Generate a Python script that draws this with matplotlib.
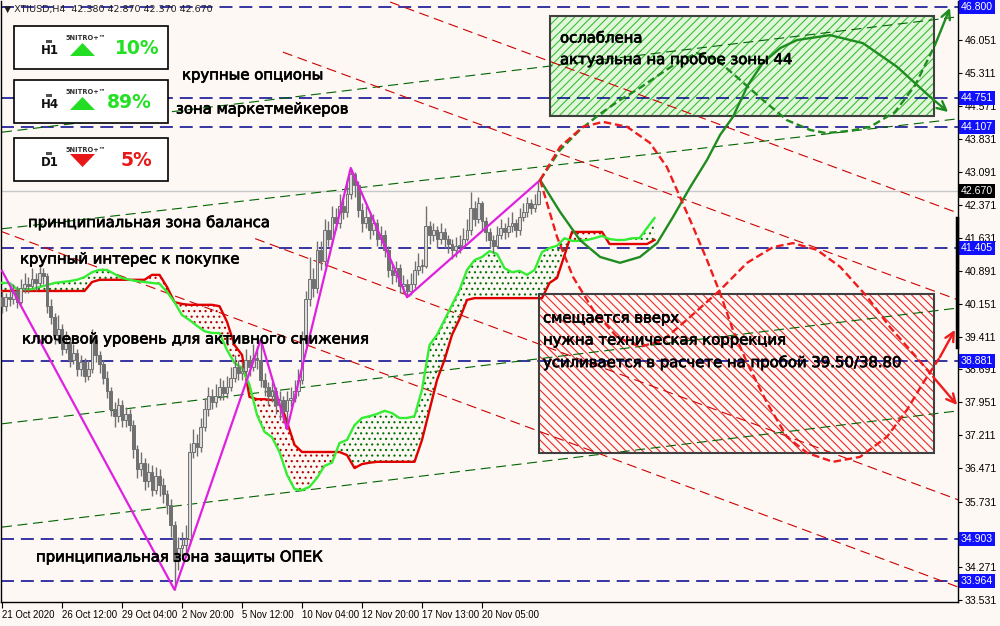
import numpy as np
import matplotlib
matplotlib.use("Agg")
import matplotlib.pyplot as plt
from matplotlib.patches import Rectangle, Polygon
import matplotlib.transforms as mtransforms
import matplotlib.patheffects as pe

# ---------------- data ----------------
closes = [40.10, 40.30, 40.25, 40.45, 40.20, 40.50, 40.60, 40.55, 40.70, 40.62,
          40.85, 40.78, 40.10, 39.85, 39.45, 39.60, 39.15, 39.30, 38.90, 39.05,
          38.70, 38.85, 38.55, 38.70, 39.35, 39.00, 38.80, 38.50, 38.20, 37.80,
          37.65, 37.90, 37.55, 37.70, 37.45, 36.90, 36.45, 36.60, 36.20, 36.40,
          36.00, 36.30, 36.10, 35.90, 35.65, 35.20, 34.40, 34.70, 34.75, 34.90,
          36.85, 37.05, 36.95, 37.40, 37.80, 38.10, 37.95, 38.10, 38.30, 38.15,
          38.30, 38.50, 38.75, 38.60, 38.65, 38.90, 38.75, 38.95, 38.90, 38.45,
          38.30, 38.10, 38.20, 37.90, 38.00, 37.75, 38.00, 38.05, 38.20, 38.45,
          39.35, 40.25, 40.70, 40.50, 41.35, 41.10, 41.80, 41.60, 42.10, 41.95,
          42.35, 42.20, 42.60, 43.05, 42.80, 42.25, 41.95, 42.10, 41.80, 41.95,
          41.60, 41.70, 41.35, 40.90, 40.80, 40.95, 40.55, 40.60, 40.45, 40.60,
          40.90, 41.00, 41.00, 41.90, 41.70, 41.80, 41.60, 41.75, 41.60, 41.50,
          41.35, 41.45, 41.45, 41.60, 41.80, 42.30, 42.05, 42.40, 42.00, 41.75,
          41.58, 41.45, 41.70, 41.85, 41.75, 41.90, 41.95, 41.80, 42.10, 42.20,
          42.40, 42.30, 42.38, 42.67]
highs = [40.45, 40.40, 40.55, 40.60, 40.55, 40.70, 40.85, 40.75, 40.95, 40.85,
         41.05, 40.95, 40.85, 40.25, 39.95, 39.90, 39.70, 39.55, 39.40, 39.25,
         39.15, 39.00, 38.95, 38.90, 39.60, 39.45, 39.10, 38.90, 38.65, 38.30,
         37.95, 38.05, 38.00, 37.85, 37.80, 37.55, 37.00, 36.85, 36.70, 36.60,
         36.55, 36.50, 36.45, 36.25, 36.00, 35.80, 35.30, 34.95, 35.05, 35.20,
         37.05, 37.35, 37.25, 37.60, 38.05, 38.30, 38.25, 38.35, 38.50, 38.45,
         38.55, 38.75, 39.00, 38.90, 38.85, 39.15, 39.00, 39.25, 39.20, 39.35,
         38.60, 38.40, 38.40, 38.30, 38.20, 38.10, 38.20, 38.30, 38.45, 38.70,
         39.55, 40.45, 41.20, 40.95, 41.55, 41.55, 42.05, 42.00, 42.35, 42.30,
         42.60, 42.55, 42.95, 43.20, 43.10, 42.90, 42.40, 42.35, 42.20, 42.15,
         42.05, 41.90, 41.80, 41.45, 41.05, 41.10, 41.05, 40.80, 40.70, 40.85,
         41.10, 41.30, 41.15, 42.35, 42.00, 41.95, 41.90, 41.95, 41.85, 41.70,
         41.60, 41.65, 41.70, 41.85, 42.05, 42.65, 42.45, 42.55, 42.45, 42.10,
         41.85, 41.70, 41.90, 42.05, 41.95, 42.10, 42.20, 42.05, 42.30, 42.40,
         42.55, 42.50, 42.60, 42.87]
lows = [39.95, 40.00, 40.10, 40.15, 40.05, 40.15, 40.40, 40.40, 40.50, 40.45,
        40.55, 40.60, 39.95, 39.70, 39.25, 39.30, 39.00, 39.05, 38.75, 38.80,
        38.55, 38.55, 38.40, 38.45, 38.60, 38.85, 38.60, 38.35, 38.05, 37.65,
        37.40, 37.50, 37.40, 37.40, 37.30, 36.70, 36.25, 36.30, 36.00, 36.05,
        35.85, 35.90, 35.85, 35.70, 35.45, 34.95, 33.76, 34.20, 34.45, 34.50,
        34.80, 36.70, 36.75, 36.85, 37.30, 37.65, 37.80, 37.85, 38.00, 38.00,
        38.05, 38.20, 38.40, 38.45, 38.45, 38.55, 38.55, 38.65, 38.70, 38.30,
        38.10, 37.90, 37.95, 37.70, 37.55, 37.50, 37.35, 37.85, 37.95, 38.10,
        38.35, 39.20, 40.10, 40.30, 40.40, 40.90, 41.00, 41.45, 41.50, 41.80,
        41.85, 42.05, 42.10, 42.50, 42.55, 42.10, 41.75, 41.85, 41.60, 41.70,
        41.45, 41.45, 41.20, 40.75, 40.60, 40.65, 40.40, 40.40, 40.30, 40.35,
        40.50, 40.80, 40.85, 40.95, 41.50, 41.55, 41.40, 41.50, 41.40, 41.30,
        41.15, 41.20, 41.30, 41.40, 41.55, 41.70, 41.90, 41.95, 41.80, 41.55,
        41.40, 41.30, 41.40, 41.60, 41.60, 41.65, 41.75, 41.65, 41.70, 42.00,
        42.10, 42.15, 42.20, 42.37]
first_open = 40.30

# Ichimoku cloud (every second bar, incl. bars projected forward)
cloud_bars = list(range(0, 176, 2))
span_a = [40.62, 40.62, 40.48, 40.48, 40.48, 40.53, 40.57, 40.62, 40.64, 40.66,
          40.69, 40.75, 40.86, 40.91, 40.91, 40.82, 40.73, 40.69, 40.66, 40.64,
          40.62, 40.60, 40.42, 40.19, 39.90, 39.79, 39.66, 39.54, 39.50, 39.50,
          39.12, 38.83, 38.72, 38.34, 37.67, 37.29, 37.17, 36.84, 36.33, 36.01,
          35.99, 36.06, 36.26, 36.53, 36.60, 37.04, 37.11, 37.44, 37.60, 37.64,
          37.69, 37.76, 37.71, 37.60, 37.60, 37.64, 38.23, 39.23, 39.46, 39.79,
          40.13, 40.46, 40.91, 41.13, 41.20, 41.33, 41.27, 40.95, 40.86, 40.89,
          40.80, 40.91, 41.31, 41.40, 41.45, 41.62, 41.56, 41.56, 41.58, 41.62,
          41.67, 41.60, 41.58, 41.58, 41.62, 41.62, 41.85, 42.07]
span_b = [40.44, 40.44, 40.44, 40.44, 40.44, 40.44, 40.44, 40.44, 40.44, 40.44,
          40.44, 40.44, 40.64, 40.69, 40.69, 40.69, 40.69, 40.69, 40.69, 40.69,
          40.80, 40.80, 40.53, 40.19, 40.15, 40.13, 40.13, 40.13, 40.13, 40.10,
          39.75, 39.23, 39.01, 38.07, 38.02, 38.02, 38.00, 38.00, 37.51, 37.00,
          36.84, 36.84, 36.84, 36.84, 36.84, 36.84, 36.77, 36.48, 36.57, 36.60,
          36.62, 36.62, 36.62, 36.62, 36.62, 36.62, 37.11, 37.78, 38.45, 38.90,
          39.46, 39.81, 40.24, 40.28, 40.28, 40.28, 40.28, 40.28, 40.28, 40.28,
          40.28, 40.28, 40.28, 40.62, 40.73, 41.24, 41.76, 41.76, 41.76, 41.76,
          41.76, 41.49, 41.49, 41.49, 41.49, 41.49, 41.49, 41.58]

# ZigZag
zz_bars = [0, 46, 69, 76, 93, 108, 143.5]
zz_vals = [40.89, 33.76, 39.35, 37.35, 43.19, 40.30, 42.92]

# horizontal levels
levels = [46.800, 44.751, 44.107, 41.405, 38.881, 34.903, 33.964]
last_price = 42.670

# channel lines
trend_bars = [0, 255]
green_trend_start = [35.16, 37.47, 41.83, 43.99]
green_trend_end = [37.76, 40.06, 44.29, 46.57]
red_trend_bars0 = [103.5, 74.9, -0.5, 67.5]
red_trend_start = [46.90, 45.78, 41.78, 41.61]
red_trend_end = [42.18, 40.24, 33.82, 35.77]

# forecast paths
g_solid_bars = [143.5, 148.8, 154.1, 159.5, 164.8, 170.1, 174.7, 178.9, 183.5, 188.0, 191.5,
                194.9, 198.9, 202.9, 207.5, 212.0, 220.8, 229.6, 238.7, 247.5, 252.3]
g_solid_vals = [42.92, 42.21, 41.58, 41.20, 41.07, 41.20, 41.51, 42.09, 42.76, 43.37, 43.93,
                44.33, 45.04, 45.54, 45.87, 46.05, 46.16, 45.98, 45.45, 44.78, 44.44]
g_dash_bars = [143.5, 148.8, 154.1, 159.5, 164.8, 170.1, 175.5, 180.0, 185.3, 190.7, 196.0,
               202.9, 209.3, 215.5, 219.7, 226.1, 231.5, 238.1, 243.5, 248.8, 252.8]
g_dash_vals = [42.92, 43.59, 44.04, 44.40, 44.71, 44.98, 45.29, 45.54, 45.76, 45.60, 45.22,
               44.71, 44.26, 44.04, 43.97, 44.02, 44.11, 44.44, 45.04, 45.94, 46.77]
r1_bars = [143.5, 148.8, 154.9, 160.3, 166.7, 172.8, 177.3, 180.8, 184.3, 188.0, 191.5, 194.9,
           198.7, 204.0, 209.3, 214.7, 221.6, 228.8, 236.0, 241.3, 245.6, 250.1, 254.1]
r1_vals = [42.92, 43.66, 44.11, 44.22, 44.11, 43.75, 43.21, 42.54, 41.87, 41.13, 40.39, 39.57,
           38.83, 37.94, 37.18, 36.82, 36.62, 36.73, 37.18, 37.78, 38.38, 38.96, 39.57]
r2_bars = [143.5, 148.0, 152.3, 157.6, 164.0, 170.1, 176.3, 183.5, 191.5, 198.7, 205.6, 210.9,
           217.3, 223.5, 230.7, 236.8, 242.9, 248.3, 254.7]
r2_vals = [42.92, 41.65, 40.75, 40.02, 39.41, 39.19, 39.34, 39.86, 40.46, 41.07, 41.42, 41.51,
           41.36, 40.98, 40.31, 39.63, 39.05, 38.52, 37.89]

# zones (bar0, bar1, low, high)
green_zone = (146.1, 248.5, 44.35, 46.59)
red_zone = (143.2, 248.5, 36.82, 40.37)

# axis ticks
ytick_vals = [46.051, 45.311, 44.571, 43.831, 43.091, 42.371, 41.631, 40.891, 40.151,
              39.411, 38.691, 37.951, 37.211, 36.471, 35.731, 34.271, 33.531]
xtick_bars = [0, 16, 32, 48, 64, 80, 96, 112, 128]
xtick_labels = ["21 Oct 2020", "26 Oct 12:00", "29 Oct 04:00", "2 Nov 20:00", "5 Nov 12:00",
                "10 Nov 04:00", "12 Nov 20:00", "17 Nov 13:00", "20 Nov 05:00"]

# signal panel
panel_tf = ["H1", "H4", "D1"]
panel_pct = ["10%", "89%", "5%"]
panel_up = [True, True, False]

# ---------------- drawing ----------------
bg = "#fdf8f4"
axis_font = "Liberation Sans"
plt.rcParams["hatch.linewidth"] = 0.8

fig = plt.figure(figsize=(10, 6.26), dpi=100)
fig.patch.set_facecolor(bg)
ax = fig.add_axes([0.001, 24 / 626, 0.957, 601 / 626])
ax.set_facecolor(bg)
ax.set_xlim(-0.27, 254.93)
ax.set_ylim(33.486, 46.923)

# zones
gx0, gx1, gy0, gy1 = green_zone
ax.add_patch(Rectangle((gx0, gy0), gx1 - gx0, gy1 - gy0, facecolor="#e2f6da",
                       edgecolor="#36c036", hatch="////", linewidth=0, zorder=0.5))
ax.add_patch(Rectangle((gx0, gy0), gx1 - gx0, gy1 - gy0, fill=False,
                       edgecolor="#404040", linewidth=1.5, zorder=6))
rx0, rx1, ry0, ry1 = red_zone
ax.add_patch(Rectangle((rx0, ry0), rx1 - rx0, ry1 - ry0, facecolor="none",
                       edgecolor="#f02828", hatch="\\\\\\\\", linewidth=0, zorder=0.5))
ax.add_patch(Rectangle((rx0, ry0), rx1 - rx0, ry1 - ry0, fill=False,
                       edgecolor="#404040", linewidth=1.5, zorder=6))

# levels
ax.axhline(last_price, color="#c8c8c8", lw=1.0, zorder=1)
for v in levels:
    ax.axhline(v, color="#00008b", lw=1.1, dashes=(8.5, 4.5), zorder=2)

# channel lines
for s, e in zip(green_trend_start, green_trend_end):
    ax.plot(trend_bars, [s, e], color="#006400", lw=0.8, dashes=(9, 5), zorder=2)
for b0, s, e in zip(red_trend_bars0, red_trend_start, red_trend_end):
    ax.plot([b0, trend_bars[1]], [s, e], color="#cc0000", lw=0.8, dashes=(9, 5), zorder=2)

# cloud
a = np.array(span_a)
b = np.array(span_b)
cb = np.array(cloud_bars)
ax.fill_between(cb, a, b, where=a >= b, interpolate=True, facecolor="none",
                edgecolor="#007000", hatch="...", linewidth=0, zorder=2.5)
ax.fill_between(cb, a, b, where=a < b, interpolate=True, facecolor="none",
                edgecolor="#b00000", hatch="...", linewidth=0, zorder=2.5)
ax.plot(cb, b, color="#e00000", lw=1.7, zorder=3)
ax.plot(cb, a, color="#33ee33", lw=1.7, zorder=3)

# candles
c = np.array(closes)
o = np.array([first_open] + closes[:-1])
h = np.array(highs)
l = np.array(lows)
idx = np.arange(len(c))
ax.vlines(idx, l, h, color="#707070", lw=1.0, zorder=4)
up = c >= o
body_h = np.maximum(np.abs(c - o), 0.02)
ax.bar(idx[up], body_h[up], bottom=np.minimum(o, c)[up], width=0.75, color="#dcdcdc",
       edgecolor="#707070", linewidth=0.7, zorder=4.5)
ax.bar(idx[~up], body_h[~up], bottom=np.minimum(o, c)[~up], width=0.75, color="#707070",
       edgecolor="#707070", linewidth=0.7, zorder=4.5)

# zigzag
ax.plot(zz_bars, zz_vals, color="#e020e0", lw=1.6, zorder=5)


# forecasts
def fpath(xs, ys, color, dashed):
    kw = dict(color=color, lw=1.7, zorder=7)
    if dashed:
        kw["dashes"] = (3.2, 1.6)
    ax.plot(xs[:-1], ys[:-1], **kw)
    ax.annotate("", xy=(xs[-1], ys[-1]), xytext=(xs[-2], ys[-2]),
                arrowprops=dict(arrowstyle="->", color=color, lw=1.7,
                                mutation_scale=16, shrinkA=0, shrinkB=0), zorder=7)


fpath(g_solid_bars, g_solid_vals, "#1e8c1e", False)
fpath(g_dash_bars, g_dash_vals, "#1e8c1e", True)
fpath(r1_bars, r1_vals, "#ee1c1c", True)
fpath(r2_bars, r2_vals, "#ee1c1c", True)

# axes styling
ax.spines["top"].set_visible(False)
for sp in ["left", "bottom", "right"]:
    ax.spines[sp].set_color("black")
    ax.spines[sp].set_linewidth(1.0)
ax.yaxis.tick_right()
ax.set_yticks(ytick_vals)
ax.set_yticklabels([f"{v:.3f}" for v in ytick_vals], family=axis_font)
ax.tick_params(axis="y", labelsize=7.6, length=3, pad=2, colors="black")
ax.set_xticks(xtick_bars)
ax.set_xticklabels(xtick_labels, family=axis_font)
ax.tick_params(axis="x", labelsize=6.9, length=4, pad=1.5, colors="black")
for lab in ax.get_xticklabels():
    lab.set_horizontalalignment("left")

# price labels on the right axis
btr = mtransforms.blended_transform_factory(ax.transAxes, ax.transData)
for v in levels:
    ax.text(1.003, v, f"{v:.3f}", transform=btr, ha="left", va="center", fontsize=7.6,
            family=axis_font, color="white",
            bbox=dict(boxstyle="square,pad=0.2", fc="#1010ff", ec="none"),
            zorder=20, clip_on=False)
ax.text(1.003, last_price, f"{last_price:.3f}", transform=btr, ha="left", va="center",
        fontsize=7.6, family=axis_font, color="white",
        bbox=dict(boxstyle="square,pad=0.2", fc="black", ec="none"), zorder=20, clip_on=False)

# ---------------- overlay (screen coords) ----------------
ov = fig.add_axes([0, 0, 1, 1], zorder=10)
ov.set_xlim(0, 1000)
ov.set_ylim(626, 0)
ov.axis("off")
ov.patch.set_alpha(0)

ov.plot([957, 957], [218, 347], color="black", lw=2.5)
ov.text(4, 9, "▼ XTIUSD,H4  42.380 42.870 42.370 42.670", fontsize=6.8, va="center",
        ha="left", color="#202020")

box_tops = [26, 80, 138]
pct_right = [160, 152, 152]
for y0, tf, pct, isup, pr in zip(box_tops, panel_tf, panel_pct, panel_up, pct_right):
    ov.add_patch(Rectangle((14, y0), 154, 43, facecolor="white", edgecolor="black", lw=1.2))
    ov.add_patch(Rectangle((46, y0 + 14), 6, 3, facecolor="#505050", edgecolor="none"))
    ov.text(50, y0 + 25, tf, fontsize=8.5, fontweight="bold", ha="center", va="center",
            color="#101010")
    ov.text(86, y0 + 12, "5NITRO+™", fontsize=4.8, fontweight="bold", ha="center",
            va="center", color="#303030")
    if isup:
        ov.add_patch(Polygon([(70, y0 + 30), (95, y0 + 30), (82.5, y0 + 17)],
                             closed=True, facecolor="#22dd22", edgecolor="none"))
        col = "#22e022"
    else:
        ov.add_patch(Polygon([(70, y0 + 16), (95, y0 + 16), (82.5, y0 + 29)],
                             closed=True, facecolor="#e81818", edgecolor="none"))
        col = "#e81818"
    ov.text(pr, y0 + 23, pct, fontsize=13.5, fontweight="bold", ha="right", va="center",
            color=col)

lab_kw = dict(fontsize=10.7, ha="left", va="center", color="black", family="DejaVu Sans",
              path_effects=[pe.withStroke(linewidth=0.5, foreground="black")])
ov.text(182, 75, "крупные опционы", **lab_kw)
ov.text(176, 109, "зона маркетмейкеров", **lab_kw)
ov.text(28, 222, "принципиальная зона баланса", **lab_kw)
ov.text(20, 259, "крупный интерес к покупке", **lab_kw)
ov.text(22, 339, "ключевой уровень для активного снижения", **lab_kw)
ov.text(36, 557, "принципиальная зона защиты ОПЕК", **lab_kw)
ov.text(560, 38, "ослаблена", **lab_kw)
ov.text(560, 59, "актуальна на пробое зоны 44", **lab_kw)
ov.text(543, 318, "смещается вверх", **lab_kw)
ov.text(543, 340, "нужна техническая коррекция", **lab_kw)
ov.text(543, 362, "усиливается в расчете на пробой 39.50/38.80", **lab_kw)

fig.savefig("out.png", dpi=100, facecolor=bg)
